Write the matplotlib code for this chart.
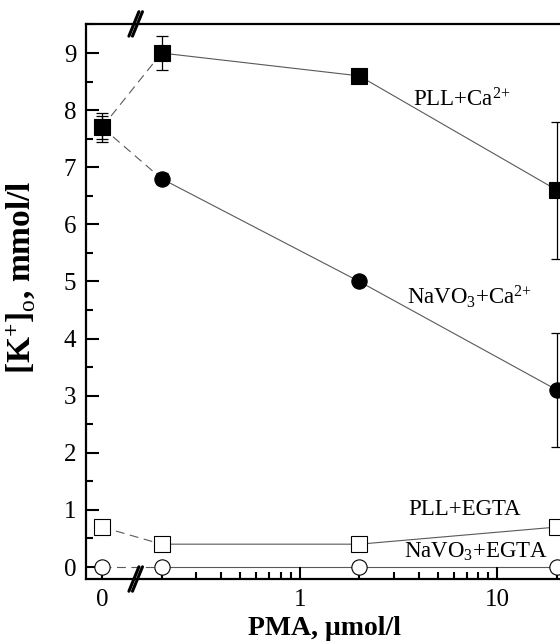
import numpy as np
import matplotlib.pyplot as plt

plt.rcParams['font.family'] = ['Liberation Serif', 'DejaVu Serif']
plt.rcParams['mathtext.fontset'] = 'custom'
plt.rcParams['mathtext.rm'] = 'Liberation Serif'
plt.rcParams['mathtext.it'] = 'Liberation Serif:italic'
plt.rcParams['mathtext.bf'] = 'Liberation Serif:bold'

# PMA concentrations; 0 is drawn at ZERO_POS on the log axis (broken axis)
pma = [0, 0.2, 2, 20]
ZERO_POS = 0.1

pll_ca = [7.7, 9.0, 8.6, 6.6]
pll_ca_err = [0.25, 0.3, 0.1, 1.2]
navo_ca = [7.7, 6.8, 5.0, 3.1]
navo_ca_err = [0.2, 0.1, 0.05, 1.0]
pll_egta = [0.7, 0.4, 0.4, 0.7]
navo_egta = [0.0, 0.0, 0.0, 0.0]

x = [ZERO_POS if v == 0 else v for v in pma]

fig = plt.figure(figsize=(5.6, 6.41), dpi=100)
ax = fig.add_axes([0.1536, 0.0967, 0.852, 0.866])
ax.set_xscale('log')

series = [
    (pll_ca, pll_ca_err, 's', 'black'),
    (navo_ca, navo_ca_err, 'o', 'black'),
    (pll_egta, None, 's', 'white'),
    (navo_egta, None, 'o', 'white'),
]

for y, err, mk, fc in series:
    # dashed across the axis break, solid afterwards
    ax.plot(x[:2], y[:2], color='0.35', lw=0.8, ls=(0, (8, 5)), zorder=1)
    ax.plot(x[1:], y[1:], color='0.35', lw=0.8, zorder=1)
    if err is not None:
        ax.errorbar(x, y, yerr=err, fmt='none', ecolor='black', elinewidth=0.9,
                    capsize=4.5, capthick=0.9, zorder=2)
    ax.plot(x, y, ls='none', marker=mk, ms=11, mfc=fc, mec='black', mew=0.8,
            zorder=3, clip_on=False)

ax.set_xlim(0.083, 21.5)
ax.set_ylim(-0.21, 9.51)

ax.set_xticks([ZERO_POS, 1, 10])
ax.set_xticklabels(['0', '1', '10'])
minor = [0.2] + [i / 10 for i in range(3, 10)] + list(range(2, 10)) + [20]
ax.set_xticks(minor, minor=True)
ax.set_xticklabels([], minor=True)
ax.set_yticks(range(0, 10))
ax.set_yticks(np.arange(0, 9.6, 0.5), minor=True)

ax.tick_params(which='both', direction='in', labelsize=18, top=False, right=False)
ax.tick_params(which='major', length=9, width=1.5, pad=7)
ax.tick_params(which='minor', length=5, width=1.5)
for s in ax.spines.values():
    s.set_linewidth(1.6)

ax.set_xlabel('PMA, \u03bcmol/l', fontsize=20, fontweight='bold', labelpad=4)
ax.set_ylabel(r'[K$^{\mathbf{+}}$]$_{\mathrm{o}}$, mmol/l', fontsize=24,
              fontweight='bold')
ax.yaxis.set_label_coords(-0.103, 0.544)

# break marks on the top and bottom spines
bx = 0.145
trans = ax.get_xaxis_transform()
for yb in (0.0, 1.0):
    for off in (0.0, 0.018):
        xc = bx * 10 ** off
        ax.annotate('', xy=(xc * 1.06, yb + 0.022), xytext=(xc / 1.06, yb - 0.022),
                    xycoords=trans, textcoords=trans,
                    arrowprops=dict(arrowstyle='-', lw=2.2, color='black',
                                    shrinkA=0, shrinkB=0))

ax.text(6.6, 8.18, 'PLL+Ca$^{2{+}}$', fontsize=16.5, ha='center', va='center')
ax.text(7.2, 4.73, 'NaVO$_3$+Ca$^{2{+}}$', fontsize=16.5, ha='center', va='center')
ax.text(6.8, 1.0, 'PLL+EGTA', fontsize=16.5, ha='center', va='center')
ax.text(7.8, 0.27, 'NaVO$_3$+EGTA', fontsize=16.5, ha='center', va='center')

fig.savefig('out.png', dpi=100)
